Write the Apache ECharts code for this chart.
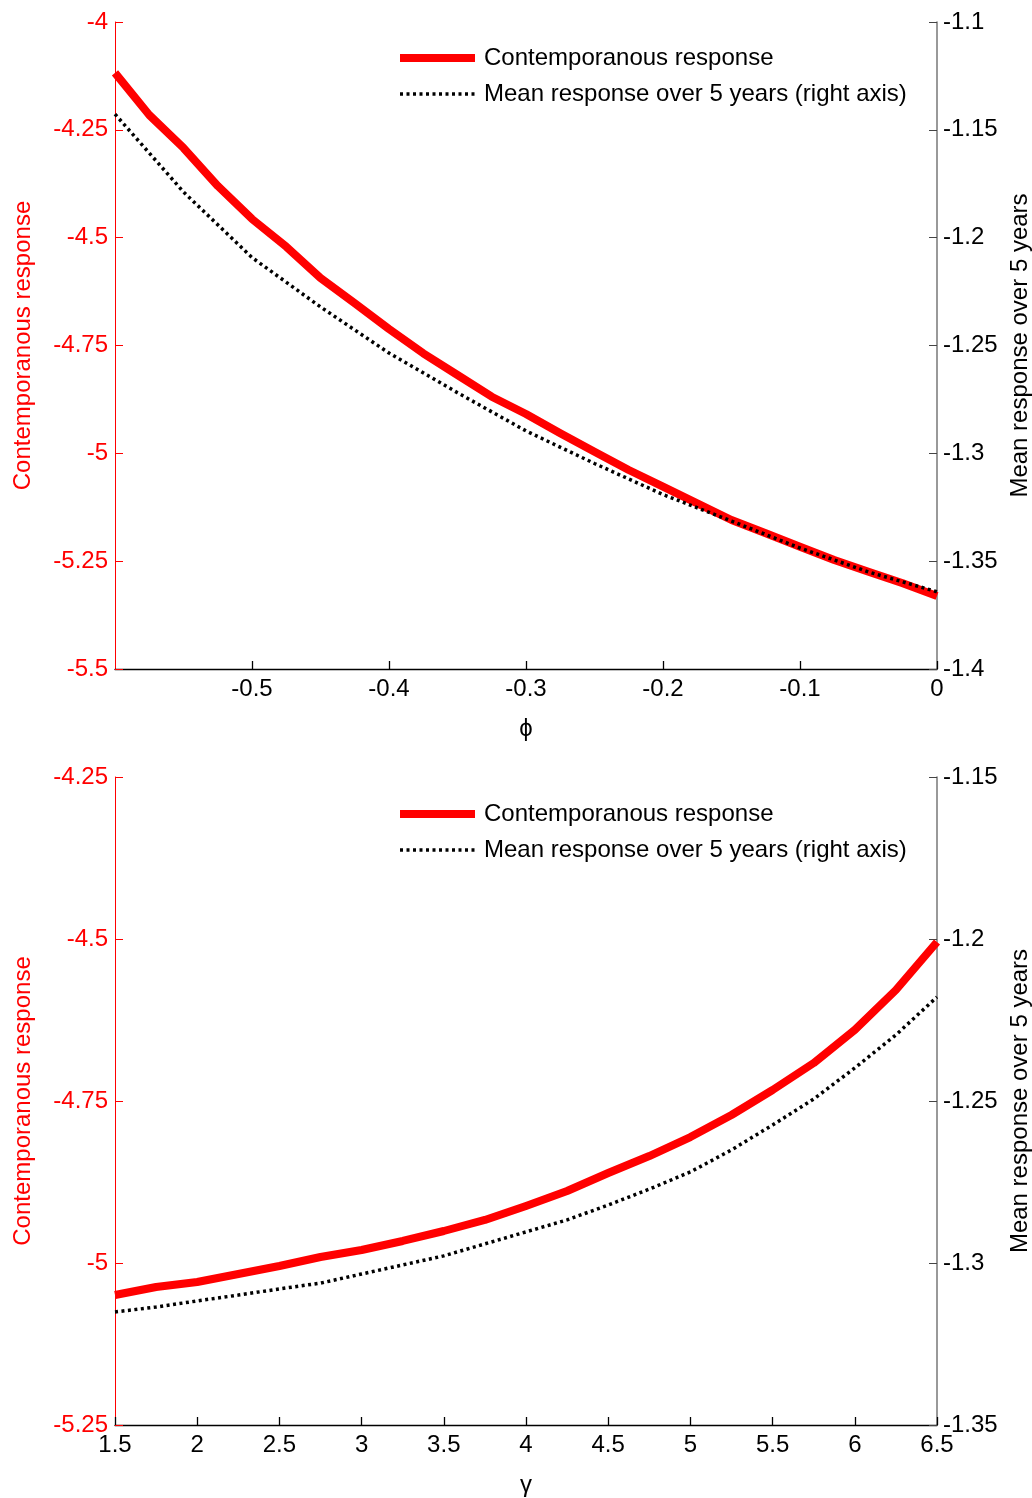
<!DOCTYPE html>
<html>
<head>
<meta charset="utf-8">
<script src="https://cdn.jsdelivr.net/npm/echarts@6/dist/echarts.min.js"></script>
<style>html,body{margin:0;padding:0;background:#fff;overflow:hidden}#c{width:1032px;height:1498px}</style>
</head>
<body>
<div id="c"></div>
<script>
// Top panel (phi)
const phiRedX = [-0.6,-0.575,-0.55,-0.525,-0.5,-0.475,-0.45,-0.425,-0.4,-0.375,-0.35,-0.325,-0.3,-0.275,-0.25,-0.225,-0.2,-0.175,-0.15,-0.125,-0.1,-0.075,-0.05,-0.025,0];
const phiRed = [-4.118,-4.2156,-4.2921,-4.3802,-4.4567,-4.5209,-4.5935,-4.6522,-4.7117,-4.7681,-4.8184,-4.8687,-4.9088,-4.9536,-4.9962,-5.0387,-5.0774,-5.1159,-5.1546,-5.1854,-5.2165,-5.2473,-5.2745,-5.3013,-5.3308];
const phiDotX = [-0.6,-0.55,-0.5,-0.45,-0.4,-0.35,-0.3,-0.25,-0.2,-0.15,-0.1,-0.05,0];
const phiDot = [-1.1427,-1.1788,-1.2092,-1.2321,-1.2535,-1.2719,-1.2896,-1.3047,-1.3191,-1.3314,-1.3439,-1.3550,-1.3642];
// Bottom panel (gamma)
const gamX = [1.5,1.75,2,2.25,2.5,2.75,3,3.25,3.5,3.75,4,4.25,4.5,4.75,5,5.25,5.5,5.75,6,6.25,6.5];
const gamRed = [-5.0494,-5.037,-5.0293,-5.017,-5.0046,-4.9907,-4.9799,-4.966,-4.9506,-4.9336,-4.912,-4.8889,-4.8611,-4.8349,-4.8056,-4.7716,-4.733,-4.6914,-4.6404,-4.5787,-4.5046];
const gamDot = [-1.3151,-1.3136,-1.3117,-1.3099,-1.3080,-1.3062,-1.3034,-1.3006,-1.2978,-1.2941,-1.2904,-1.2867,-1.2821,-1.2772,-1.2719,-1.2651,-1.2574,-1.2494,-1.2398,-1.2296,-1.2179];

const nameRed = 'Contemporanous response';
const nameDot = 'Mean response over 5 years (right axis)';
const leftName = 'Contemporanous response';
const rightName = 'Mean response over 5 years';

const FONT = '"Liberation Sans", Arial, sans-serif';
const FS = 24;
const fmt = v => String(parseFloat(v.toFixed(3)));
const zip = (a, b) => a.map((x, i) => [x, b[i]]);

function xAx(gi, min, max, interval, name, showMin, gap) {
  return {
    type: 'value', gridIndex: gi, min, max, interval,
    name, nameLocation: 'middle', nameGap: gap,
    nameTextStyle: {color: '#000', fontSize: FS, fontFamily: FONT},
    axisLine: {show: true, onZero: false, lineStyle: {color: '#000', width: 1.3}},
    axisTick: {show: true, inside: true, length: 8, lineStyle: {color: '#000', width: 1.3}},
    axisLabel: {color: '#000', fontSize: FS, fontFamily: FONT, margin: 8, formatter: fmt, showMinLabel: showMin},
    splitLine: {show: false}
  };
}
function yLeft(gi, min, max, interval) {
  return {
    type: 'value', gridIndex: gi, position: 'left', min, max, interval,
    name: leftName, nameLocation: 'middle', nameGap: 80, nameRotate: 90,
    nameTextStyle: {color: '#ff0000', fontSize: FS, fontFamily: FONT},
    axisLine: {show: true, onZero: false, lineStyle: {color: '#ff0000', width: 1}},
    axisTick: {show: true, inside: true, length: 8, lineStyle: {color: '#ff0000', width: 1}},
    axisLabel: {color: '#ff0000', fontSize: FS, fontFamily: FONT, margin: 7, formatter: fmt},
    splitLine: {show: false}
  };
}
function yRight(gi, min, max, interval) {
  return {
    type: 'value', gridIndex: gi, position: 'right', min, max, interval,
    name: rightName, nameLocation: 'middle', nameGap: 61, nameRotate: 90,
    nameTextStyle: {color: '#000', fontSize: FS, fontFamily: FONT},
    axisLine: {show: true, onZero: false, lineStyle: {color: '#777', width: 1.5}},
    axisTick: {show: true, inside: true, length: 8, lineStyle: {color: '#444', width: 1}},
    axisLabel: {color: '#000', fontSize: FS, fontFamily: FONT, margin: 6, formatter: fmt},
    splitLine: {show: false}
  };
}
const redStyle = {color: '#ff0000', width: 8, cap: 'butt', join: 'round'};
const dotStyle = {color: '#000', width: 3.5, type: [3, 3.5]};

function legendAt(top, suffix) {
  return {
    data: [
      {name: nameRed + suffix, lineStyle: {width: 8, color: '#ff0000', type: 'solid'}},
      {name: nameDot + suffix, lineStyle: {width: 3.5, color: '#000', type: [3, 3.5]}}
    ],
    orient: 'vertical', left: 396, top, padding: 0,
    itemWidth: 75, itemHeight: 14, itemGap: 12,
    itemStyle: {opacity: 0},
    textStyle: {fontSize: FS, fontFamily: FONT, color: '#000', padding: [0, 0, 0, 4]},
    selectedMode: false,
    formatter: n => n.trim()
  };
}

const chart = echarts.init(document.getElementById('c'), null, {renderer: 'canvas'});
chart.setOption({
  backgroundColor: '#fff',
  animation: false,
  grid: [
    {left: 115, right: 95, top: 22, height: 647, outerBoundsMode: 'none', containLabel: false},
    {left: 115, right: 95, top: 777, height: 648, outerBoundsMode: 'none', containLabel: false}
  ],
  legend: [legendAt(46, ''), legendAt(802, ' ')],
  xAxis: [
    xAx(0, -0.6, 0, 0.1, 'ϕ', false, 48),
    xAx(1, 1.5, 6.5, 0.5, 'γ', true, 48)
  ],
  yAxis: [
    yLeft(0, -5.5, -4, 0.25),
    yRight(0, -1.4, -1.1, 0.05),
    yLeft(1, -5.25, -4.25, 0.25),
    yRight(1, -1.35, -1.15, 0.05)
  ],
  series: [
    {name: nameDot, type: 'line', xAxisIndex: 0, yAxisIndex: 1, data: zip(phiDotX, phiDot), showSymbol: false, symbol: 'none', lineStyle: dotStyle, itemStyle: {color: '#000'}, z: 3},
    {name: nameRed, type: 'line', xAxisIndex: 0, yAxisIndex: 0, data: zip(phiRedX, phiRed), showSymbol: false, symbol: 'none', lineStyle: redStyle, itemStyle: {color: '#ff0000'}, z: 2},
    {name: nameDot + ' ', type: 'line', xAxisIndex: 1, yAxisIndex: 3, data: zip(gamX, gamDot), showSymbol: false, symbol: 'none', lineStyle: dotStyle, itemStyle: {color: '#000'}, z: 3},
    {name: nameRed + ' ', type: 'line', xAxisIndex: 1, yAxisIndex: 2, data: zip(gamX, gamRed), showSymbol: false, symbol: 'none', lineStyle: redStyle, itemStyle: {color: '#ff0000'}, z: 2}
  ]
});
</script>
</body>
</html>
